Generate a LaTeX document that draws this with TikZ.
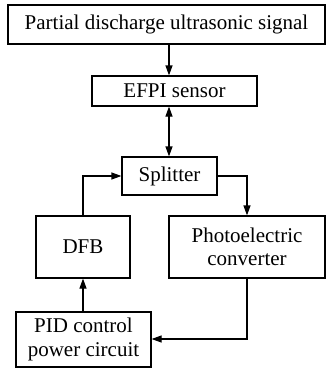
\documentclass[tikz,border=0pt]{standalone}
\usepackage{fontspec}
\setmainfont{Liberation Serif}
\usetikzlibrary{arrows.meta}
\begin{document}
\begin{tikzpicture}[x=1pt,y=-1pt,
  box/.style={draw,line width=1.2pt,inner sep=0pt,align=center,font=\fontsize{21}{23.5}\selectfont},
  arr/.style={line width=1.2pt,-{Triangle[length=10pt,width=7pt]}},
  darr/.style={line width=1.2pt,{Triangle[length=10pt,width=7pt]}-{Triangle[length=10pt,width=7pt]}}]
\useasboundingbox (0,0) rectangle (327,369);
\node[box,minimum width=317pt,minimum height=39pt] (top) at (166.5,24.5) {Partial discharge ultrasonic signal};
\node[box,minimum width=165pt,minimum height=30pt] (efpi) at (174.5,91) {EFPI sensor};
\node[box,minimum width=95pt,minimum height=38pt] (spl) at (169.5,176) {Splitter};
\node[box,minimum width=94pt,minimum height=62pt] (dfb) at (83,247) {DFB};
\node[box,minimum width=156pt,minimum height=62pt] (pc) at (247,247) {Photoelectric\\converter};
\node[box,minimum width=135pt,minimum height=55pt] (pid) at (83.5,339.5) {PID control\\power circuit};
\draw[arr] (169,0 |- top.south) -- (169,0 |- efpi.north);
\draw[darr] (169,0 |- efpi.south) -- (169,0 |- spl.north);
\draw[arr] (dfb.north) |- (spl.west);
\draw[arr] (spl.east) -| (pc.north);
\draw[arr] (pc.south) |- (pid.east |- 0,339);
\draw[arr] (83,0 |- pid.north) -- (dfb.south);
\end{tikzpicture}
\end{document}
